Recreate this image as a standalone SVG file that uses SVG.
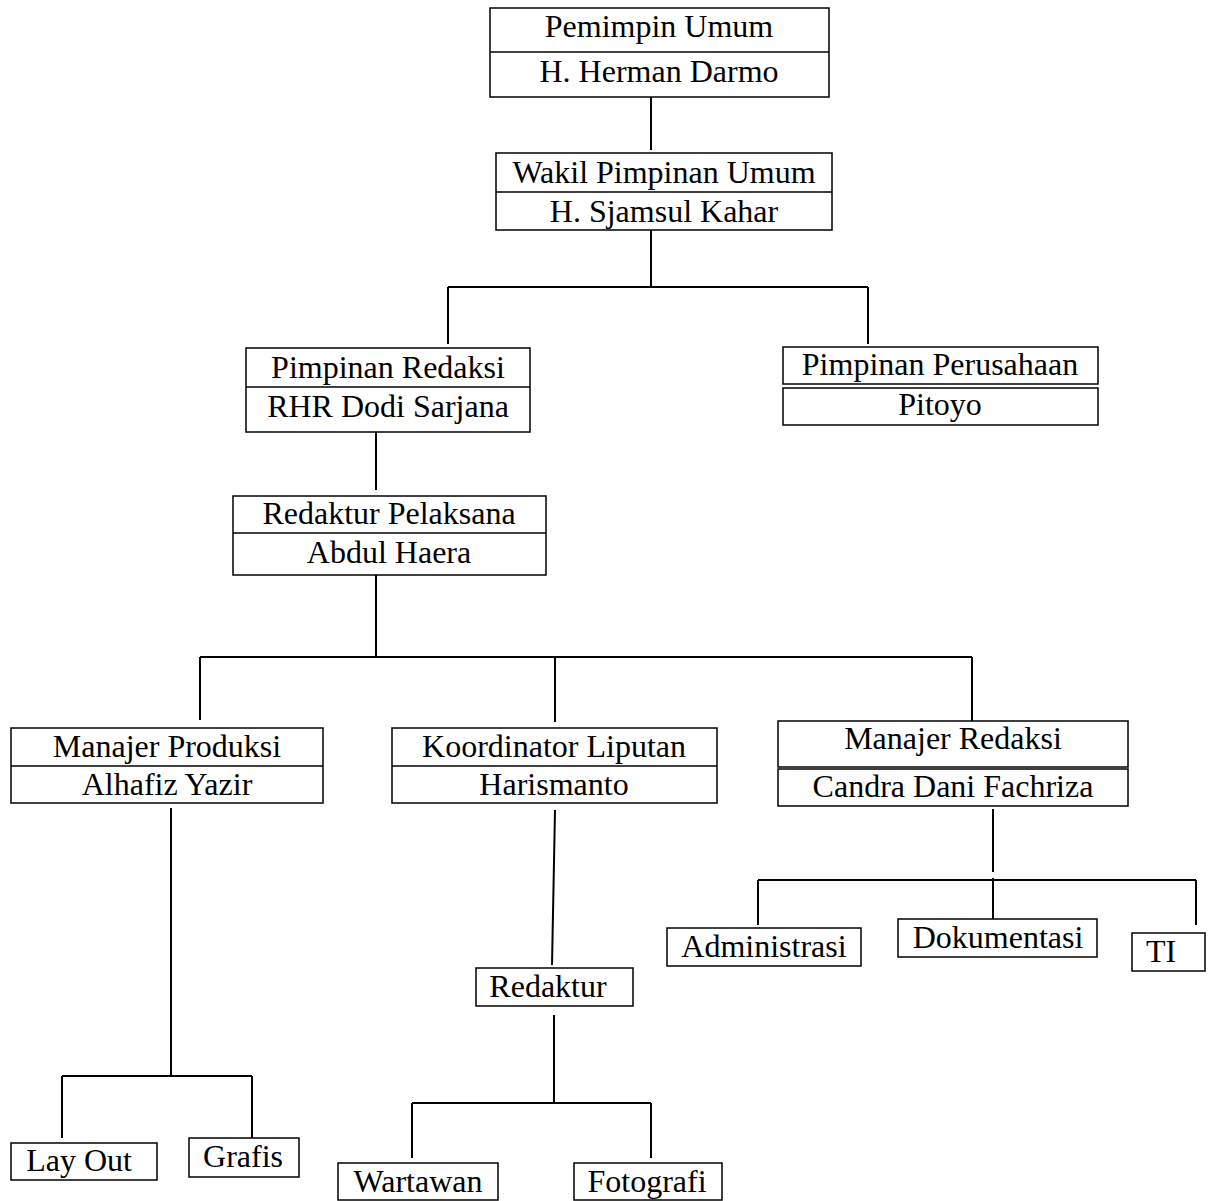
<svg xmlns="http://www.w3.org/2000/svg" width="1213" height="1201" viewBox="0 0 1213 1201">
<style>
.b{fill:#fff;stroke:#000;stroke-width:1.5}
.c{fill:none;stroke:#000;stroke-width:2}
text{font-family:"Liberation Serif","Times New Roman",serif;font-size:32px;fill:#000;text-anchor:middle}
</style>
<rect width="1213" height="1201" fill="#fff"/>
<g id="connectors">
<path class="c" d="M651 97V150"/>
<path class="c" d="M651 230V287M448 287H868M448 287V344M868 287V344"/>
<path class="c" d="M376 432V490"/>
<path class="c" d="M376 575V657M200 657H972M200 657V720M555 657V722M972 657V721"/>
<path class="c" d="M171 808V1076M62 1076H252M62 1076V1138M252 1076V1138"/>
<path class="c" d="M555 810L552 965"/>
<path class="c" d="M554 1015V1104M412 1103H651M412 1103V1158M651 1103V1158"/>
<path class="c" d="M993 809V872M758 880H1196M758 880V925M993 878V919M1196 880V925"/>
</g>
<g id="pemimpin-umum">
<rect class="b" x="490" y="8" width="339" height="89"/>
<line class="b" x1="490" y1="52" x2="829" y2="52"/>
<text x="659" y="37">Pemimpin Umum</text>
<text x="659" y="82">H. Herman Darmo</text>
</g>
<g id="wakil-pimpinan-umum">
<rect class="b" x="496" y="153" width="336" height="77"/>
<line class="b" x1="496" y1="192" x2="832" y2="192"/>
<text x="664" y="183">Wakil Pimpinan Umum</text>
<text x="664" y="222">H. Sjamsul Kahar</text>
</g>
<g id="pimpinan-redaksi">
<rect class="b" x="246" y="348" width="284" height="84"/>
<line class="b" x1="246" y1="387" x2="530" y2="387"/>
<text x="388" y="378">Pimpinan Redaksi</text>
<text x="388" y="417">RHR Dodi Sarjana</text>
</g>
<g id="pimpinan-perusahaan">
<rect class="b" x="783" y="347" width="315" height="37"/>
<rect class="b" x="783" y="388" width="315" height="37"/>
<text x="940" y="375">Pimpinan Perusahaan</text>
<text x="940" y="415">Pitoyo</text>
</g>
<g id="redaktur-pelaksana">
<rect class="b" x="233" y="496" width="313" height="79"/>
<line class="b" x1="233" y1="533" x2="546" y2="533"/>
<text x="389" y="524">Redaktur Pelaksana</text>
<text x="389" y="563">Abdul Haera</text>
</g>
<g id="manajer-produksi">
<rect class="b" x="11" y="728" width="312" height="75"/>
<line class="b" x1="11" y1="766" x2="323" y2="766"/>
<text x="167" y="757">Manajer Produksi</text>
<text x="167" y="795">Alhafiz Yazir</text>
</g>
<g id="koordinator-liputan">
<rect class="b" x="392" y="728" width="325" height="75"/>
<line class="b" x1="392" y1="766" x2="717" y2="766"/>
<text x="554" y="757">Koordinator Liputan</text>
<text x="554" y="795">Harismanto</text>
</g>
<g id="manajer-redaksi">
<rect class="b" x="778" y="721" width="350" height="46"/>
<rect class="b" x="778" y="769" width="350" height="37"/>
<text x="953" y="749">Manajer Redaksi</text>
<text x="953" y="797">Candra Dani Fachriza</text>
</g>
<g id="administrasi">
<rect class="b" x="667" y="928" width="194" height="38"/>
<text x="764" y="957">Administrasi</text>
</g>
<g id="dokumentasi">
<rect class="b" x="898" y="919" width="199" height="38"/>
<text x="998" y="948">Dokumentasi</text>
</g>
<g id="ti">
<rect class="b" x="1132" y="933" width="73" height="38"/>
<text x="1161" y="962">TI</text>
</g>
<g id="redaktur">
<rect class="b" x="476" y="968" width="157" height="38"/>
<text x="548" y="997">Redaktur</text>
</g>
<g id="lay-out">
<rect class="b" x="11" y="1143" width="146" height="37"/>
<text x="79" y="1171">Lay Out</text>
</g>
<g id="grafis">
<rect class="b" x="189" y="1138" width="110" height="39"/>
<text x="243" y="1167">Grafis</text>
</g>
<g id="wartawan">
<rect class="b" x="338" y="1163" width="160" height="37"/>
<text x="418" y="1192">Wartawan</text>
</g>
<g id="fotografi">
<rect class="b" x="574" y="1163" width="148" height="37"/>
<text x="647" y="1192">Fotografi</text>
</g>
</svg>
